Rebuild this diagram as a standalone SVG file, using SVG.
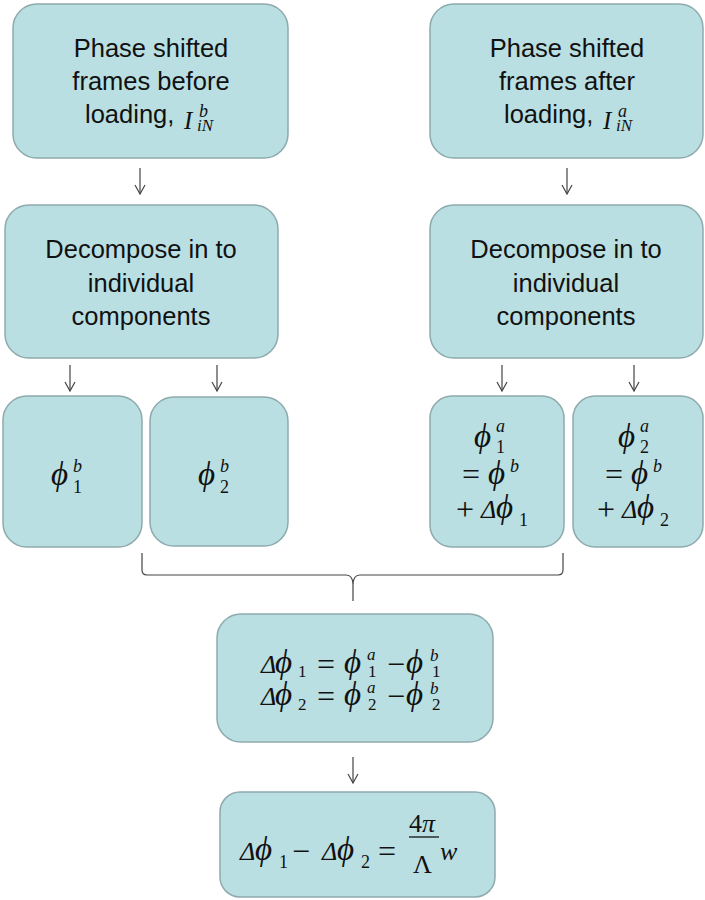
<svg xmlns="http://www.w3.org/2000/svg" width="705" height="900" viewBox="0 0 705 900">
  <style>
    .box { fill: #b9dfe2; stroke: #8eaaad; stroke-width: 1.5; }
    .lbl { font-family: "Liberation Sans", Arial, sans-serif; font-size: 25.5px; fill: #111; text-anchor: middle; }
    .lbl-s { font-family: "Liberation Sans", Arial, sans-serif; font-size: 25.5px; fill: #111; }
    .m { font-family: "Liberation Serif", "DejaVu Serif", serif; font-style: italic; font-size: 26px; fill: #111; }
    .ph { font-size: 33px; }
    .op { font-style: normal; font-size: 32px; }
    .up { font-style: normal; }
    .sm { font-size: 18px; }
    .xs { font-size: 17px; }
    .conn { fill: none; stroke: #444; stroke-width: 1.2; }
  </style>
  <defs>
    <marker id="vhead" viewBox="0 0 12 12" refX="10" refY="6" markerWidth="12" markerHeight="12" markerUnits="userSpaceOnUse" orient="auto">
      <path d="M1,1 L10,6 L1,11" fill="none" stroke="#444" stroke-width="1.2"/>
    </marker>
  </defs>

  <!-- connectors -->
  <g id="connectors">
    <line class="conn" x1="140" y1="168" x2="140" y2="194" marker-end="url(#vhead)"/>
    <line class="conn" x1="567" y1="168" x2="567" y2="194" marker-end="url(#vhead)"/>
    <line class="conn" x1="70" y1="365" x2="70" y2="391" marker-end="url(#vhead)"/>
    <line class="conn" x1="217" y1="365" x2="217" y2="391" marker-end="url(#vhead)"/>
    <line class="conn" x1="502" y1="365" x2="502" y2="391" marker-end="url(#vhead)"/>
    <line class="conn" x1="634" y1="365" x2="634" y2="391" marker-end="url(#vhead)"/>
    <line class="conn" x1="353" y1="757" x2="353" y2="783" marker-end="url(#vhead)"/>
    <!-- brace gathering the four components -->
    <path class="conn" d="M142,553 L142,570 Q142,575 147,575 L346,575 Q353,575 353,585 L353,601 M353,585 Q353,575 360,575 L558,575 Q563,575 563,570 L563,553"/>
  </g>

  <!-- top left -->
  <g id="frames-before">
    <rect class="box" x="13" y="4" width="275" height="154" rx="24"/>
    <text class="lbl" x="151" y="57">Phase shifted</text>
    <text class="lbl" x="151" y="90">frames before</text>
    <text class="lbl-s" x="85" y="123">loading,</text>
    <text class="m"><tspan x="184" y="129" font-size="25">I</tspan><tspan x="199" y="117" font-size="18">b</tspan><tspan x="197" y="131" font-size="17">iN</tspan></text>
  </g>

  <!-- top right -->
  <g id="frames-after">
    <rect class="box" x="430" y="4" width="273" height="154" rx="24"/>
    <text class="lbl" x="567" y="57">Phase shifted</text>
    <text class="lbl" x="567" y="90">frames after</text>
    <text class="lbl-s" x="504" y="123">loading,</text>
    <text class="m"><tspan x="603" y="129" font-size="25">I</tspan><tspan x="618" y="117" font-size="18">a</tspan><tspan x="616" y="131" font-size="17">iN</tspan></text>
  </g>

  <!-- decompose left -->
  <g id="decompose-before">
    <rect class="box" x="5" y="205" width="273" height="153" rx="24"/>
    <text class="lbl" x="141" y="258">Decompose in to</text>
    <text class="lbl" x="141" y="292">individual</text>
    <text class="lbl" x="141" y="325">components</text>
  </g>

  <!-- decompose right -->
  <g id="decompose-after">
    <rect class="box" x="430" y="205" width="273" height="153" rx="24"/>
    <text class="lbl" x="566" y="258">Decompose in to</text>
    <text class="lbl" x="566" y="292">individual</text>
    <text class="lbl" x="566" y="325">components</text>
  </g>

  <!-- phi1 b -->
  <g id="phi1-before">
    <rect class="box" x="3" y="396" width="139" height="151" rx="24"/>
    <text class="m"><tspan class="ph" x="51" y="485">ϕ</tspan><tspan class="sm" x="73" y="472">b</tspan><tspan class="sm up" x="73" y="493">1</tspan></text>
  </g>

  <!-- phi2 b -->
  <g id="phi2-before">
    <rect class="box" x="150" y="397" width="138" height="149" rx="24"/>
    <text class="m"><tspan class="ph" x="198" y="485">ϕ</tspan><tspan class="sm" x="220" y="472">b</tspan><tspan class="sm up" x="220" y="493">2</tspan></text>
  </g>

  <!-- phi1 a -->
  <g id="phi1-after">
    <rect class="box" x="430" y="396" width="134" height="151" rx="22"/>
    <text class="m">
      <tspan class="ph" x="474" y="447">ϕ</tspan><tspan class="sm" x="496" y="432">a</tspan><tspan class="sm up" x="496" y="453">1</tspan>
      <tspan class="op" x="462" y="485">=</tspan><tspan class="ph" x="488" y="484">ϕ</tspan><tspan class="sm" x="510" y="472">b</tspan>
      <tspan class="op" x="456" y="520">+</tspan><tspan x="481" y="518">Δ</tspan><tspan class="ph" x="496" y="518">ϕ</tspan><tspan class="sm up" x="519" y="526">1</tspan>
    </text>
  </g>

  <!-- phi2 a -->
  <g id="phi2-after">
    <rect class="box" x="573" y="396" width="130" height="151" rx="22"/>
    <text class="m">
      <tspan class="ph" x="618" y="447">ϕ</tspan><tspan class="sm" x="640" y="432">a</tspan><tspan class="sm up" x="640" y="453">2</tspan>
      <tspan class="op" x="605" y="485">=</tspan><tspan class="ph" x="631" y="484">ϕ</tspan><tspan class="sm" x="653" y="472">b</tspan>
      <tspan class="op" x="597" y="520">+</tspan><tspan x="622" y="518">Δ</tspan><tspan class="ph" x="637" y="518">ϕ</tspan><tspan class="sm up" x="660" y="526">2</tspan>
    </text>
  </g>

  <!-- differences -->
  <g id="phase-differences">
    <rect class="box" x="217" y="614" width="276" height="128" rx="24"/>
    <text class="m">
      <tspan x="261" y="673">Δ</tspan><tspan class="ph" x="275" y="673">ϕ</tspan><tspan class="xs up" x="298" y="677">1</tspan>
      <tspan class="op" x="317" y="675">=</tspan>
      <tspan class="ph" x="344" y="673">ϕ</tspan><tspan class="xs" x="367" y="660">a</tspan><tspan class="xs up" x="368" y="677">1</tspan>
      <tspan class="op" x="387" y="675">−</tspan>
      <tspan class="ph" x="406" y="673">ϕ</tspan><tspan class="xs" x="430" y="661">b</tspan><tspan class="xs up" x="432" y="677">1</tspan>
    </text>
    <text class="m">
      <tspan x="261" y="705">Δ</tspan><tspan class="ph" x="275" y="705">ϕ</tspan><tspan class="xs up" x="298" y="710">2</tspan>
      <tspan class="op" x="317" y="707">=</tspan>
      <tspan class="ph" x="344" y="705">ϕ</tspan><tspan class="xs" x="367" y="693">a</tspan><tspan class="xs up" x="368" y="710">2</tspan>
      <tspan class="op" x="387" y="707">−</tspan>
      <tspan class="ph" x="406" y="705">ϕ</tspan><tspan class="xs" x="430" y="694">b</tspan><tspan class="xs up" x="432" y="710">2</tspan>
    </text>
  </g>

  <!-- final relation -->
  <g id="displacement">
    <rect class="box" x="220" y="792" width="275" height="105" rx="20"/>
    <text class="m">
      <tspan x="240" y="860">Δ</tspan><tspan class="ph" x="255" y="860">ϕ</tspan><tspan class="sm up" x="279" y="868">1</tspan>
      <tspan class="op" x="292" y="862">−</tspan>
      <tspan x="322" y="860">Δ</tspan><tspan class="ph" x="337" y="860">ϕ</tspan><tspan class="sm up" x="361" y="868">2</tspan>
      <tspan class="op" x="378" y="862">=</tspan>
      <tspan class="up" x="409" y="832">4</tspan><tspan x="422" y="832">π</tspan>
      <tspan class="up" x="413" y="873">Λ</tspan>
      <tspan x="440" y="860">w</tspan>
    </text>
    <line x1="409" y1="837" x2="439" y2="837" stroke="#111" stroke-width="1.3"/>
  </g>
</svg>
